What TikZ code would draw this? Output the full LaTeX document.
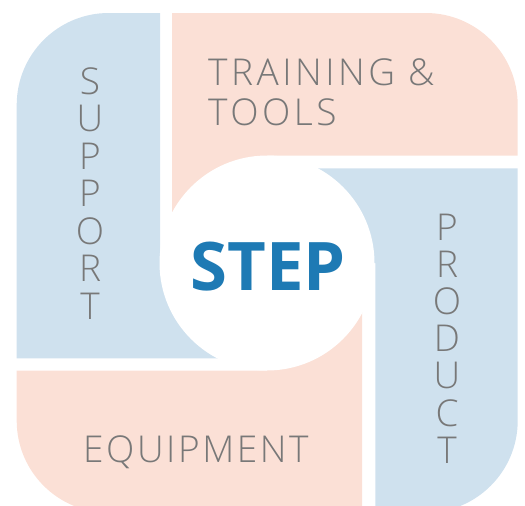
\documentclass[tikz,border=0pt]{standalone}
\usepackage{fontspec}
\setmainfont{Open Sans}
\newfontfamily\thinsans[LetterSpace=9.5]{Open Sans Light}
\newfontfamily\thinsansb[LetterSpace=7]{Open Sans Light}
\newfontfamily\stacksans{Open Sans Light}
\usepackage{tikz}
\definecolor{panelblue}{RGB}{207,225,238}
\definecolor{panelpink}{RGB}{251,224,214}
\definecolor{labgray}{RGB}{120,120,120}
\definecolor{stepblue}{RGB}{30,122,180}
\tikzset{bluep/.style={fill=panelblue},pinkp/.style={fill=panelpink},
  lab/.style={text=labgray,inner sep=0pt,anchor=base west,font=\thinsans\fontsize{37}{40}\selectfont},
  vlab/.style={text=labgray,inner sep=0pt,anchor=base,font=\stacksans\fontsize{37}{40}\selectfont}}

\begin{document}
\begin{tikzpicture}[x=1pt,y=-1pt]
          \useasboundingbox (0,0) rectangle (525,506);
          \clip (0,0) rectangle (525,506);
          \def\r{92}

          % the four panels
          \fill[bluep] (16.7,358.3) -- (16.7,13+\r) arc(180:270:\r) -- (160,13) -- (160,263) -- (267,263) -- (267,358.3) -- cycle;
          \fill[pinkp] (172,13) -- (517.7-\r,13) arc(270:360:\r) -- (517.7,155.7) -- (267,155.7) -- (267,263) -- (172,263) -- cycle;
          \fill[bluep] (267,168.3) -- (517.7,168.3) -- (517.7,512.7-\r) arc(0:90:\r) -- (375.3,512.7) -- (375.3,263) -- (267,263) -- cycle;
          \fill[pinkp] (362,263) -- (362,512.7) -- (16.7+\r,512.7) arc(90:180:\r) -- (16.7,370.7) -- (267,370.7) -- (267,263) -- cycle;

          % hub
          \fill[white] (267,263) circle (107.5);
          \node (hub) [anchor=base,inner sep=0pt,text=stepblue,font=\bfseries\fontsize{67}{67}\selectfont] at (268,290) {STEP};

          % labels
          \node (train) [lab] at (208,85) {TRAINING \&};
          \node (tools) [lab] at (208,125) {TOOLS};
          \node (equip) [lab,font=\thinsansb\fontsize{37}{40}\selectfont] at (83,462) {EQUIPMENT};
          \foreach \l [count=\i] in {S,U,P,P,O,R,T}
          {\node (sup-\i) [vlab] at (90,56.5+37.5*\i) {\l};}
          \foreach \l [count=\i] in {P,R,O,D,U,C,T}
          {\node (prod-\i) [vlab] at (447,202.8+37.2*\i) {\l};}

        \end{tikzpicture}
\end{document}
